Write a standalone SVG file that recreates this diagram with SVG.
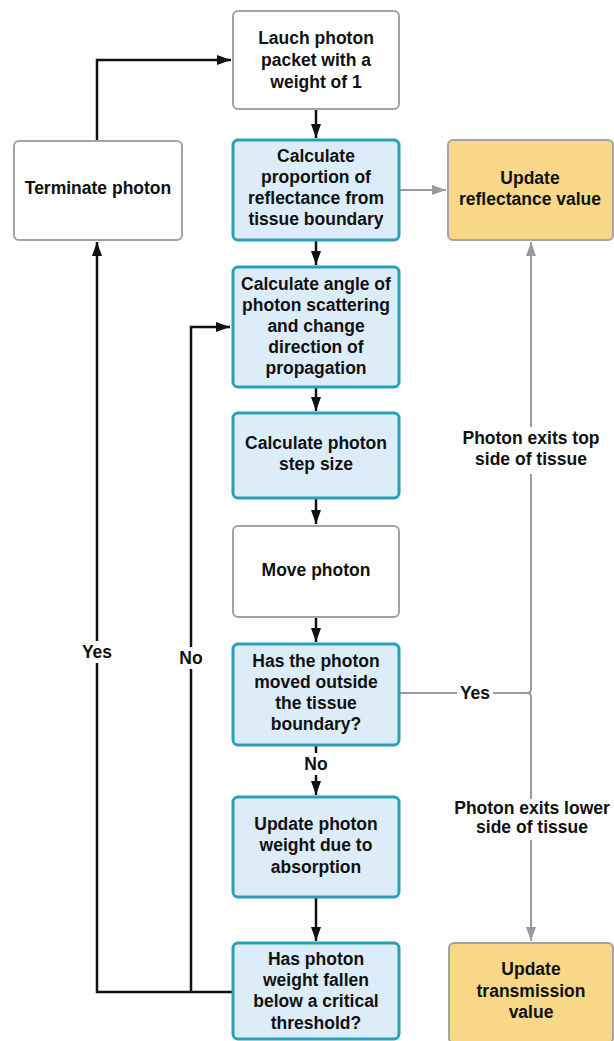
<svg xmlns="http://www.w3.org/2000/svg" width="614" height="1041" viewBox="0 0 614 1041">
<style>
.w{fill:#ffffff;stroke:#a3a3a3;stroke-width:2}
.b{fill:#dcedf9;stroke:#2a9fb8;stroke-width:3}
.y{fill:#f8d888;stroke:#a3a3a3;stroke-width:2}
text{font-family:"Liberation Sans",Arial,sans-serif;font-weight:bold;font-size:17.5px;fill:#111;text-anchor:middle}
.k{fill:none;stroke:#111;stroke-width:2.5}
.g{fill:none;stroke:#9a9a9a;stroke-width:2}
</style>
<defs>
<marker id="ak" viewBox="0 0 14 10" refX="14" refY="5" markerWidth="14" markerHeight="10" markerUnits="userSpaceOnUse" orient="auto"><path d="M0,0 L14,5 L0,10 z" fill="#111"/></marker>
<marker id="ag" viewBox="0 0 14 10" refX="14" refY="5" markerWidth="14" markerHeight="10" markerUnits="userSpaceOnUse" orient="auto"><path d="M0,0 L14,5 L0,10 z" fill="#9a9a9a"/></marker>
</defs>
<rect width="614" height="1041" fill="#ffffff"/>
<g id="connectors">
<path class="k" d="M97,141 V60 H231" marker-end="url(#ak)"/>
<path class="k" d="M316,109 V138" marker-end="url(#ak)"/>
<path class="k" d="M316,240 V265" marker-end="url(#ak)"/>
<path class="k" d="M316,387 V411" marker-end="url(#ak)"/>
<path class="k" d="M316,498 V524" marker-end="url(#ak)"/>
<path class="k" d="M316,617 V642" marker-end="url(#ak)"/>
<path class="k" d="M316,745 V795" marker-end="url(#ak)"/>
<path class="k" d="M316,897 V941" marker-end="url(#ak)"/>
<path class="k" d="M232,992 H97 V242" marker-end="url(#ak)"/>
<path class="k" d="M191,992 V327 H230" marker-end="url(#ak)"/>
<path class="g" d="M399,190 H446" marker-end="url(#ag)"/>
<path class="g" d="M399,693 H527 Q531,693 531,689 V242" marker-end="url(#ag)"/>
<path class="g" d="M527,693 Q531,693 531,697 V941" marker-end="url(#ag)"/>
<rect x="80" y="641" width="34" height="22" fill="#ffffff"/>
<text x="97" y="658">Yes</text>
<rect x="176" y="647" width="30" height="22" fill="#ffffff"/>
<text x="191" y="664">No</text>
<rect x="300" y="753" width="32" height="22" fill="#ffffff"/>
<text x="316" y="770">No</text>
<rect x="457" y="682" width="36" height="22" fill="#ffffff"/>
<text x="475" y="699">Yes</text>
<rect x="455" y="427" width="152" height="47" fill="#ffffff"/>
<text x="531" y="444">Photon exits top</text>
<text x="531" y="465">side of tissue</text>
<rect x="452" y="799" width="160" height="41" fill="#ffffff"/>
<text x="532" y="814">Photon exits lower</text>
<text x="532" y="833">side of tissue</text>
</g>
<g id="launch">
<rect class="w" x="233" y="11" width="166" height="98" rx="5"/>
<text x="316" y="44">Lauch photon</text>
<text x="316" y="66">packet with a</text>
<text x="316" y="88">weight of 1</text>
</g>
<g id="terminate">
<rect class="w" x="14" y="141" width="168" height="99" rx="5"/>
<text x="98" y="194">Terminate photon</text>
</g>
<g id="reflectance-proportion">
<rect class="b" x="233" y="140" width="166" height="100" rx="5"/>
<text x="316" y="162">Calculate</text>
<text x="316" y="183">proportion of</text>
<text x="316" y="204">reflectance from</text>
<text x="316" y="225">tissue boundary</text>
</g>
<g id="update-reflectance">
<rect class="y" x="448" y="140" width="165" height="100" rx="5"/>
<text x="530" y="184">Update</text>
<text x="530" y="205">reflectance value</text>
</g>
<g id="scatter">
<rect class="b" x="233" y="267" width="166" height="120" rx="5"/>
<text x="316" y="290">Calculate angle of</text>
<text x="316" y="311">photon scattering</text>
<text x="316" y="332">and change</text>
<text x="316" y="353">direction of</text>
<text x="316" y="374">propagation</text>
</g>
<g id="step">
<rect class="b" x="233" y="413" width="166" height="85" rx="5"/>
<text x="316" y="449">Calculate photon</text>
<text x="316" y="470">step size</text>
</g>
<g id="move">
<rect class="w" x="233" y="526" width="166" height="91" rx="5"/>
<text x="316" y="576">Move photon</text>
</g>
<g id="outside">
<rect class="b" x="233" y="644" width="166" height="101" rx="5"/>
<text x="316" y="667">Has the photon</text>
<text x="316" y="688">moved outside</text>
<text x="316" y="709">the tissue</text>
<text x="316" y="730">boundary?</text>
</g>
<g id="absorption">
<rect class="b" x="233" y="797" width="166" height="100" rx="5"/>
<text x="316" y="830">Update photon</text>
<text x="316" y="851">weight due to</text>
<text x="316" y="873">absorption</text>
</g>
<g id="threshold">
<rect class="b" x="233" y="943" width="166" height="96" rx="5"/>
<text x="316" y="965">Has photon</text>
<text x="316" y="986">weight fallen</text>
<text x="316" y="1007">below a critical</text>
<text x="316" y="1029">threshold?</text>
</g>
<g id="update-transmission">
<rect class="y" x="449" y="943" width="164" height="100" rx="5"/>
<text x="531" y="975">Update</text>
<text x="531" y="997">transmission</text>
<text x="531" y="1018">value</text>
</g>
</svg>
